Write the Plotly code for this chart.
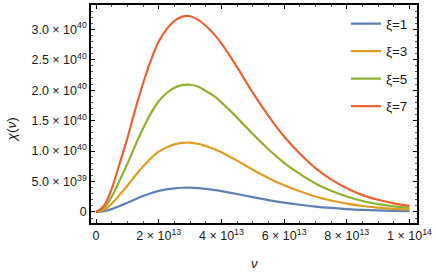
import plotly.graph_objects as go

# frequency nu, in units of 1e13
nu = [0, 0.25, 0.5, 0.75, 1, 1.25, 1.5, 1.75, 2, 2.25, 2.5, 2.75, 3, 3.25, 3.5, 3.75, 4,
      4.5, 5, 5.5, 6, 6.5, 7, 7.5, 8, 8.5, 9, 9.5, 10]
# chi(nu) in units of 1e39
chi_xi1 = [0, 0.12, 0.47, 0.98, 1.50, 2.08, 2.62, 3.09, 3.47, 3.72, 3.89, 3.98, 3.99, 3.92,
           3.79, 3.63, 3.43, 2.95, 2.43, 1.96, 1.54, 1.19, 0.89, 0.66, 0.48, 0.34, 0.25,
           0.18, 0.13]
chi_xi3 = [0, 0.36, 1.35, 2.80, 4.30, 5.95, 7.47, 8.81, 9.91, 10.6, 11.1, 11.35, 11.4, 11.2,
           10.8, 10.4, 9.81, 8.43, 6.94, 5.59, 4.39, 3.40, 2.55, 1.89, 1.38, 0.98, 0.71,
           0.50, 0.37]
chi_xi5 = [0, 0.65, 2.50, 5.15, 7.90, 10.9, 13.7, 16.2, 18.2, 19.5, 20.4, 20.85, 20.9, 20.6,
           19.9, 19.1, 18.0, 15.5, 12.8, 10.3, 8.07, 6.25, 4.69, 3.48, 2.54, 1.80, 1.30,
           0.92, 0.68]
chi_xi7 = [0, 1.0, 3.8, 7.9, 12.1, 16.8, 21.1, 24.9, 28.0, 30.0, 31.4, 32.1, 32.15, 31.6,
           30.6, 29.3, 27.7, 23.8, 19.6, 15.8, 12.4, 9.6, 7.2, 5.35, 3.9, 2.77, 2.0,
           1.42, 1.0]

series_names = ["ξ=1", "ξ=3", "ξ=5", "ξ=7"]
series_vals = [chi_xi1, chi_xi3, chi_xi5, chi_xi7]
colors = ["#5E81B5", "#E19C24", "#8FB032", "#EB6235"]

x_tickvals = [0, 2e13, 4e13, 6e13, 8e13, 1e14]
x_ticktext = ["0", "2 × 10<sup>13</sup>", "4 × 10<sup>13</sup>", "6 × 10<sup>13</sup>",
              "8 × 10<sup>13</sup>", "1 × 10<sup>14</sup>"]
y_tickvals = [0, 5e39, 1e40, 1.5e40, 2e40, 2.5e40, 3e40]
y_ticktext = ["0", "5.0 × 10<sup>39</sup>", "1.0 × 10<sup>40</sup>", "1.5 × 10<sup>40</sup>",
              "2.0 × 10<sup>40</sup>", "2.5 × 10<sup>40</sup>", "3.0 × 10<sup>40</sup>"]

X_SCALE = 1e13
Y_SCALE = 1e39

fig = go.Figure()
for name, vals, col in zip(series_names, series_vals, colors):
    fig.add_trace(go.Scatter(
        x=[v * X_SCALE for v in nu], y=[v * Y_SCALE for v in vals],
        mode="lines", name=name, legendgroup=name,
        line=dict(color=col, width=2.2, shape="spline", smoothing=1.0),
    ))

FAM = "Liberation Sans, Arial, sans-serif"
font = dict(family=FAM, size=12.5, color="#1a1a1a")

fig.update_layout(
    width=436, height=273,
    margin=dict(l=91, r=19, t=5, b=50),
    paper_bgcolor="white", plot_bgcolor="white",
    font=font,
    showlegend=True,
    legend=dict(x=0.782, y=0.985, xanchor="left", yanchor="top",
                font=dict(family=FAM, size=13.5, color="#1a1a1a"),
                tracegroupgap=7, itemwidth=30, bgcolor="rgba(0,0,0,0)"),
    xaxis=dict(
        range=[-0.16e13, 10.24e13], showgrid=False, zeroline=False,
        showline=True, linecolor="black", linewidth=1.5, mirror="ticks",
        ticks="inside", ticklen=4, tickcolor="black", tickwidth=1,
        tickmode="array", tickvals=x_tickvals, ticktext=x_ticktext,
        automargin=False,
        minor=dict(tickmode="array",
                   tickvals=[i * 0.5e13 for i in range(21)],
                   ticks="inside", ticklen=2, tickcolor="#555", tickwidth=0.8),
    ),
    yaxis=dict(
        range=[-1.81e39, 34.0e39], showgrid=False, zeroline=False,
        showline=True, linecolor="black", linewidth=1.5, mirror="ticks",
        ticks="inside", ticklen=4, tickcolor="black", tickwidth=1,
        tickmode="array", tickvals=y_tickvals, ticktext=y_ticktext,
        automargin=False,
        minor=dict(tickmode="array",
                   tickvals=[i * 1e39 for i in range(-1, 35)],
                   ticks="inside", ticklen=2, tickcolor="#555", tickwidth=0.8),
    ),
    annotations=[
        dict(text="<i>ν</i>", xref="paper", yref="paper", x=0.50, y=-0.185,
             xanchor="center", yanchor="middle", showarrow=False,
             font=dict(family=FAM, size=13, color="#1a1a1a")),
        dict(text="<i>χ</i>(<i>ν</i>)", xref="paper", yref="paper", x=-0.245, y=0.43,
             xanchor="center", yanchor="middle", showarrow=False, textangle=-90,
             font=dict(family=FAM, size=13.5, color="#1a1a1a")),
    ],
)

fig.write_html("out.html", config={"displayModeBar": False},
               post_script="document.body.style.margin='0';")
